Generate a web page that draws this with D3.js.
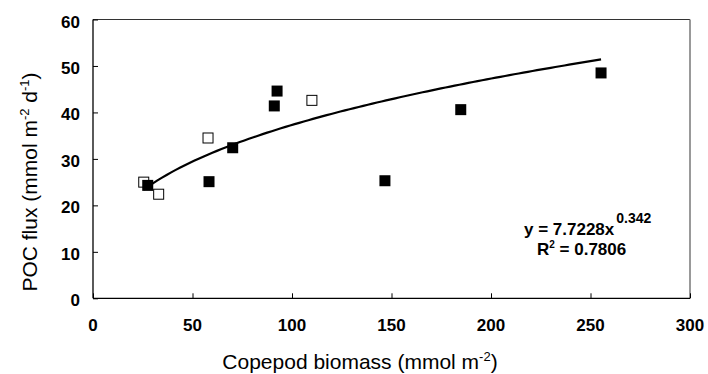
<!DOCTYPE html>
<html>
<head>
<meta charset="utf-8">
<script src="https://cdn.jsdelivr.net/npm/d3@7"></script>
<style>
  html, body { margin: 0; padding: 0; background: #fff; }
  svg { display: block; }
  text { font-family: "Liberation Sans", Arial, sans-serif; fill: #000; }
</style>
</head>
<body>
<svg id="chart" width="708" height="374"></svg>
<script>
// ---- data ----
const xTicks = [0, 50, 100, 150, 200, 250, 300];
const yTicks = [0, 10, 20, 30, 40, 50, 60];

const filledX = [27.5, 58.3, 70.2, 91.1, 92.5, 146.7, 184.8, 255.3];
const filledY = [24.3, 25.1, 32.4, 41.4, 44.6, 25.3, 40.6, 48.5];

const openX = [25.5, 33.0, 57.8, 110.0];
const openY = [25.0, 22.4, 34.5, 42.6];

// power trendline y = a * x^b (from the chart's equation label)
const fitA = 7.7228;
const fitB = 0.342;
const fitR2 = "0.7806";

const xTitle = "Copepod biomass (mmol m";
const yTitle = "POC flux (mmol m";

// ---- layout ----
const svg = d3.select("#chart");
const L = 93, R = 690, T = 19.5, B = 298.3;

const x = d3.scaleLinear().domain([0, 300]).range([L, R]);
const y = d3.scaleLinear().domain([0, 60]).range([B, T]);

// frame (top & right)
svg.append("line").attr("x1", L).attr("x2", R).attr("y1", T).attr("y2", T)
  .attr("stroke", "#333").attr("stroke-width", 1.2);
svg.append("line").attr("x1", R).attr("x2", R).attr("y1", T).attr("y2", B)
  .attr("stroke", "#777").attr("stroke-width", 1.5);

// axes
const xAxis = d3.axisBottom(x).tickValues(xTicks).tickSize(-5).tickFormat("");
const yAxis = d3.axisLeft(y).tickValues(yTicks).tickSize(-5).tickFormat("");

const gx = svg.append("g").attr("transform", `translate(0,${B})`).call(xAxis);
const gy = svg.append("g").attr("transform", `translate(${L},0)`).call(yAxis);
[gx, gy].forEach(g => {
  g.select(".domain").attr("stroke", "#000").attr("stroke-width", 1.3);
  g.selectAll(".tick line").attr("stroke", "#000").attr("stroke-width", 1);
});
gx.select(".domain").attr("d", `M${L},0H${R}`);
gy.select(".domain").attr("d", `M0,${B}V${T}`);

// tick labels
svg.append("g").selectAll("text").data(xTicks).join("text")
  .attr("x", d => x(d)).attr("y", 330.5)
  .attr("text-anchor", "middle")
  .style("font-size", "17px").style("font-weight", "bold")
  .text(d => d);

svg.append("g").selectAll("text").data(yTicks).join("text")
  .attr("x", 80).attr("y", d => y(d) + 8)
  .attr("text-anchor", "end")
  .style("font-size", "17px").style("font-weight", "bold")
  .text(d => d);

// axis titles
const xt = svg.append("text").attr("x", 360).attr("y", 369)
  .attr("text-anchor", "middle").style("font-size", "21px");
xt.append("tspan").text(xTitle);
xt.append("tspan").attr("dy", -8).style("font-size", "13px").text("-2");
xt.append("tspan").attr("dy", 8).text(")");

const yt = svg.append("text")
  .attr("transform", "translate(37,182) rotate(-90)")
  .attr("text-anchor", "middle").style("font-size", "21px");
yt.append("tspan").text(yTitle);
yt.append("tspan").attr("dy", -8).style("font-size", "13px").text("-2");
yt.append("tspan").attr("dy", 8).text(" d");
yt.append("tspan").attr("dy", -8).style("font-size", "13px").text("-1");
yt.append("tspan").attr("dy", 8).text(")");

// markers
const ms = 10;
const openPts = openX.map((v, i) => [v, openY[i]]);
const filledPts = filledX.map((v, i) => [v, filledY[i]]);

svg.append("g").selectAll("rect").data(openPts).join("rect")
  .attr("x", d => x(d[0]) - ms / 2).attr("y", d => y(d[1]) - ms / 2)
  .attr("width", ms).attr("height", ms)
  .attr("fill", "#fff").attr("stroke", "#000").attr("stroke-width", 1);

svg.append("g").selectAll("rect").data(filledPts).join("rect")
  .attr("x", d => x(d[0]) - (ms + 1) / 2).attr("y", d => y(d[1]) - (ms + 1) / 2)
  .attr("width", ms + 1).attr("height", ms + 1)
  .attr("fill", "#000");

// trendline
const allX = filledX.concat(openX);
const x0 = d3.min(allX), x1 = d3.max(allX);
const fitPts = d3.range(0, 101).map(i => {
  const xv = x0 + (x1 - x0) * i / 100;
  return [xv, fitA * Math.pow(xv, fitB)];
});
svg.append("path").datum(fitPts)
  .attr("d", d3.line().x(d => x(d[0])).y(d => y(d[1])))
  .attr("fill", "none").attr("stroke", "#000").attr("stroke-width", 2.2);

// equation labels
const eq = svg.append("text").attr("x", 524).attr("y", 235)
  .style("font-size", "17px").style("font-weight", "bold");
eq.append("tspan").text("y = " + fitA + "x");
eq.append("tspan").attr("dx", 2).attr("dy", -12).style("font-size", "14px").text(String(fitB));

const r2 = svg.append("text").attr("x", 537).attr("y", 255)
  .style("font-size", "17px").style("font-weight", "bold");
r2.append("tspan").text("R");
r2.append("tspan").attr("dy", -7).style("font-size", "10px").text("2");
r2.append("tspan").attr("dy", 7).text(" = " + fitR2);
</script>
</body>
</html>
